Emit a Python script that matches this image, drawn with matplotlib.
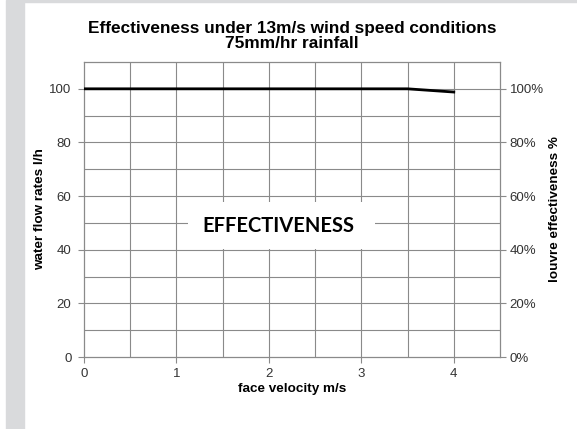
import matplotlib.pyplot as plt
from matplotlib.patches import Rectangle
import numpy as np

plt.rcParams['font.family'] = ['Liberation Sans', 'DejaVu Sans']

# data
velocity = [0, 0.5, 1, 1.5, 2, 2.5, 3, 3.5, 4]
effectiveness = [100, 100, 100, 100, 100, 100, 100, 100, 98.8]

left_ticks = [0, 20, 40, 60, 80, 100]
right_labels = ['0%', '20%', '40%', '60%', '80%', '100%']
x_ticks = [0, 1, 2, 3, 4]

fig = plt.figure(figsize=(5.77, 4.29), dpi=100)
fig.patches.append(Rectangle((6 / 577, 0), 18 / 577, 1, transform=fig.transFigure,
                             color='#d9dadc', zorder=-5))
fig.patches.append(Rectangle((24 / 577, 1 - 2 / 429), 1, 2 / 429, transform=fig.transFigure,
                             color='#d9dadc', zorder=-5))

ax = fig.add_axes([84 / 577, 1 - 357 / 429, 416 / 577, 295 / 429])
ax.set_xlim(0, 4.5)
ax.set_ylim(0, 110)

grid_c = '#8a8a8a'
for xv in np.arange(0.5, 4.5, 0.5):
    ax.axvline(xv, color=grid_c, lw=0.8, zorder=1)
for yv in np.arange(10, 110, 10):
    ax.axhline(yv, color=grid_c, lw=0.8, zorder=1)
for s in ax.spines.values():
    s.set_color(grid_c)
    s.set_linewidth(0.9)

ax.plot(velocity, effectiveness, color='black', lw=2, zorder=3)

# label box covering the grid
ax.add_patch(Rectangle((1.13, 40.4), 2.02, 17.4, facecolor='white', edgecolor='none', zorder=2))
ax.text(2.1, 49, 'EFFECTIVENESS', ha='center', va='center', fontsize=14.5,
        fontweight='bold', family=['Lato', 'DejaVu Sans'], color='#000000', zorder=4)

ax.set_xticks(x_ticks)
ax.set_yticks(left_ticks)
ax.tick_params(axis='both', colors=grid_c, labelcolor='#333333', labelsize=9.5,
               length=4, width=0.8)
ax.tick_params(axis='y', pad=5)
ax.tick_params(axis='x', pad=4)

ax2 = ax.twinx()
ax2.set_ylim(0, 110)
ax2.set_yticks(left_ticks)
ax2.set_yticklabels(right_labels)
ax2.tick_params(axis='y', colors=grid_c, labelcolor='#333333', labelsize=9.5,
                length=4, width=0.8, pad=3)
for s in ax2.spines.values():
    s.set_visible(False)

ax.set_xlabel('face velocity m/s', fontsize=9.7, fontweight='bold', labelpad=2)
ax.set_ylabel('water flow rates l/h', fontsize=9.7, fontweight='bold', labelpad=2)
ax2.set_ylabel('louvre effectiveness %', fontsize=9.7, fontweight='bold', labelpad=4)
ax.set_title('Effectiveness under 13m/s wind speed conditions\n75mm/hr rainfall',
             fontsize=12.4, fontweight='bold', pad=10, linespacing=1.0)

fig.savefig('out.png', dpi=100)
